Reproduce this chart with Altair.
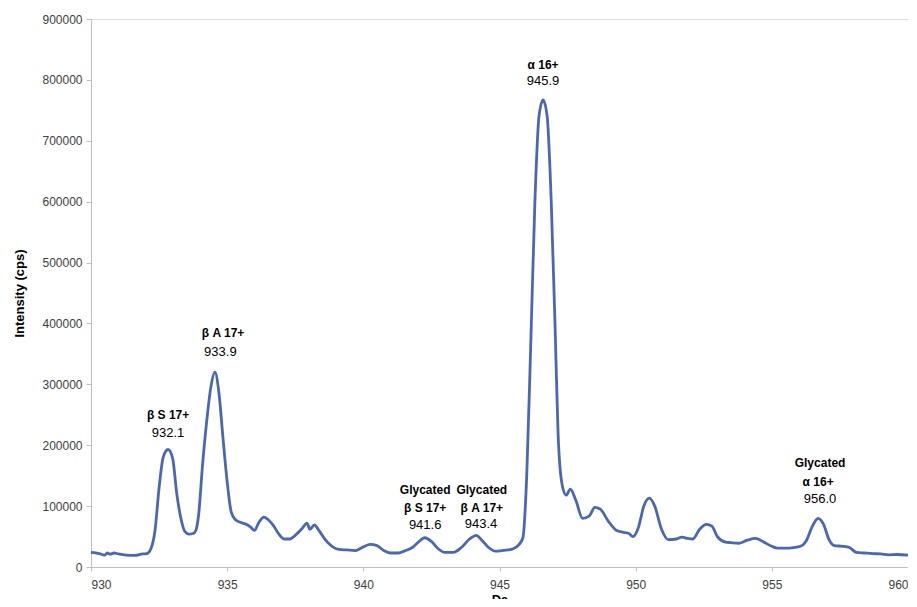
import altair as alt
import pandas as pd

# Spectrum trace (Da, intensity in cps)
da = [930.0, 930.3, 930.5, 930.6, 930.7, 930.85, 931.0, 931.3, 931.6, 931.9,
      932.05, 932.2, 932.35, 932.5, 932.65, 932.83, 933.0, 933.15, 933.3, 933.45,
      933.6, 933.75, 933.85, 933.95, 934.1, 934.25, 934.4, 934.55, 934.7, 934.85,
      935.0, 935.15, 935.3, 935.5, 935.7, 935.85, 936.0, 936.15, 936.35, 936.5,
      936.7, 936.9, 937.1, 937.3, 937.5, 937.75, 937.93, 938.04, 938.2, 938.4,
      938.6, 938.85, 939.1, 939.4, 939.7, 940.0, 940.25, 940.5, 940.75, 941.0,
      941.3, 941.5, 941.8, 942.05, 942.25, 942.5, 942.75, 943.0, 943.3, 943.6,
      943.9, 944.15, 944.35, 944.6, 944.85, 945.1, 945.3, 945.5, 945.7, 945.86,
      946.0, 946.15, 946.3, 946.45, 946.6, 946.75, 946.9, 947.05, 947.15, 947.3,
      947.45, 947.6, 947.8, 948.05, 948.3, 948.5, 948.7, 949.0, 949.3, 949.55,
      949.75, 949.9, 950.1, 950.3, 950.5, 950.7, 950.95, 951.2, 951.5, 951.7,
      951.9, 952.1, 952.35, 952.6, 952.8, 953.0, 953.3, 953.5, 953.8, 954.1,
      954.4, 954.7, 955.0, 955.2, 955.5, 955.8, 956.05, 956.25, 956.5, 956.7,
      956.9, 957.1, 957.3, 957.6, 957.85, 958.1, 958.4, 958.7, 959.0, 959.3,
      959.6, 960.0]
intensity = [24000, 22000, 19500, 23000, 21000, 23000, 21500, 19500, 19000, 21500,
             22000, 30000, 60000, 130000, 180000, 193000, 178000, 120000, 80000, 58000,
             54000, 55000, 60000, 85000, 170000, 240000, 295000, 320000, 285000, 210000,
             140000, 90000, 78000, 73000, 70000, 66000, 60000, 72000, 82000, 78000,
             68000, 54000, 46000, 46000, 52000, 63000, 72000, 62000, 69000, 58000,
             45000, 34000, 29000, 28000, 27000, 33000, 37000, 35000, 27000, 23000,
             23000, 26000, 32000, 42000, 48000, 42000, 30000, 24000, 24000, 32000,
             46000, 52000, 44000, 32000, 26000, 27000, 28000, 30000, 36000, 48000,
             150000, 370000, 600000, 740000, 767000, 740000, 600000, 380000, 220000, 135000,
             118000, 128000, 110000, 80000, 84000, 98000, 95000, 75000, 60000, 57000,
             55000, 50000, 65000, 100000, 113000, 100000, 62000, 45000, 46000, 49000,
             47000, 46000, 62000, 70000, 67000, 50000, 41000, 40000, 39000, 44000,
             47000, 41000, 34000, 31000, 31000, 32000, 34000, 42000, 68000, 80000,
             70000, 45000, 35000, 34000, 32000, 24000, 23000, 22000, 21500, 20000,
             20500, 19500]

# Peak annotations
label_text = ["β S 17+", "932.1",
              "β A 17+", "933.9",
              "α 16+", "945.9",
              "Glycated", "β S 17+", "941.6",
              "Glycated", "β A 17+", "943.4",
              "Glycated", "α 16+", "956.0"]
label_x = [932.83, 932.83,
           934.85, 934.75,
           946.6, 946.6,
           942.27, 942.27, 942.27,
           944.35, 944.35, 944.32,
           956.77, 956.7, 956.77]
label_y = [249000, 220000,
           384000, 353000,
           824000, 798000,
           126400, 96900, 69000,
           126400, 96900, 70600,
           170800, 139500, 111700]
label_bold = [True, False,
              True, False,
              True, False,
              True, True, False,
              True, True, False,
              True, True, False]

spec = pd.DataFrame({"Da": da, "I": intensity})
labels = pd.DataFrame({"x": label_x, "y": label_y, "t": label_text, "b": label_bold})

xs = alt.Scale(domain=[930, 960], nice=False, zero=False)
ys = alt.Scale(domain=[0, 900000], nice=False)

line = alt.Chart(spec).mark_line(
    color="#4a67b3", strokeWidth=2.8, interpolate="monotone"
).encode(
    x=alt.X("Da:Q", scale=xs, title="Da",
            axis=alt.Axis(values=[930, 935, 940, 945, 950, 955, 960], format="d",
                          grid=False, domainColor="#bfbfbf", tickColor="#bfbfbf",
                          tickSize=4, labelColor="#404040", labelFontSize=12,
                          labelFont="Liberation Sans", labelPadding=8,
                          titleFont="Liberation Sans", titleFontSize=13,
                          titleFontWeight="bold", titleColor="#000000", titlePadding=3)),
    y=alt.Y("I:Q", scale=ys, title="Intensity (cps)",
            axis=alt.Axis(values=list(range(0, 900001, 100000)), format="d",
                          grid=False, domainColor="#bfbfbf", tickColor="#bfbfbf",
                          tickSize=5, labelColor="#404040", labelFontSize=12,
                          labelFont="Liberation Sans", labelPadding=4,
                          titleFont="Liberation Sans", titleFontSize=13,
                          titleFontWeight="bold", titleColor="#000000", titlePadding=15)),
)

bold_txt = alt.Chart(labels).transform_filter("datum.b").mark_text(
    font="Liberation Sans", fontSize=12, fontWeight="bold", color="#000000",
    align="center", baseline="middle"
).encode(x=alt.X("x:Q", scale=xs), y=alt.Y("y:Q", scale=ys), text="t:N")

norm_txt = alt.Chart(labels).transform_filter("!datum.b").mark_text(
    font="Liberation Sans", fontSize=13, color="#000000",
    align="center", baseline="middle"
).encode(x=alt.X("x:Q", scale=xs), y=alt.Y("y:Q", scale=ys), text="t:N")

chart = alt.layer(line, bold_txt, norm_txt).properties(
    width=817, height=548,
    autosize=alt.AutoSizeParams(type="none"),
    padding={"left": 83, "top": 11, "right": 0, "bottom": 32},
).configure_view(stroke=None).configure(background="#ffffff")

chart.save("out.html", embed_options={"renderer": "svg", "actions": False})
